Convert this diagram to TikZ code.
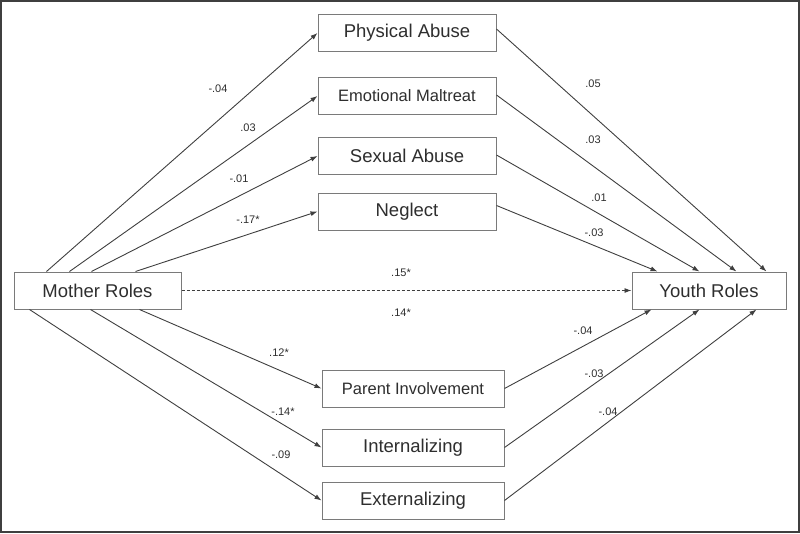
\documentclass[tikz,border=0pt]{standalone}
\usepackage{fontspec}
\setmainfont{Liberation Sans}
\usetikzlibrary{arrows.meta}
\definecolor{linea}{HTML}{3F3F3F}
\definecolor{borde}{HTML}{7A7A7A}
\definecolor{texto}{HTML}{2E2E2E}

\begin{document}
\begin{tikzpicture}[x=1pt,y=-1pt,
  caja/.style={draw=borde,line width=1pt,fill=white,minimum height=37pt,inner sep=0pt,text=texto,font=\fontsize{18.5}{20}\selectfont},
  cajachica/.style={caja,font=\fontsize{16.5}{18}\selectfont},
  coef/.style={text=texto,inner sep=1pt,font=\fontsize{11}{12}\selectfont},
  flecha/.style={draw=linea,line width=0.9pt,-{Latex[length=7pt,width=5pt]}}]

\useasboundingbox (0,0) rectangle (800,533);
%marco exterior
\draw [line width=2pt,color=linea] (1,1) rectangle (799,532);

%variables extremas
\node[caja,minimum width=167pt] (madre) at (97.5,290.5) {Mother Roles};
\node[caja,minimum width=154pt] (joven) at (709,290.5) {Youth Roles};

%mediadores de arriba
\node[caja,minimum width=178pt] (fisico) at (407,33) {Physical Abuse};
\node[cajachica,minimum width=178pt] (emocional) at (407,96) {Emotional Maltreat};
\node[caja,minimum width=178pt] (sexual) at (407,156) {Sexual Abuse};
\node[caja,minimum width=178pt] (neglig) at (407,211.5) {Neglect};

%mediadores de abajo
\node[cajachica,minimum width=182pt] (padres) at (413,388.5) {Parent Involvement};
\node[caja,minimum width=182pt] (intern) at (413,447.5) {Internalizing};
\node[caja,minimum width=182pt] (extern) at (413,500.5) {Externalizing};

%flechas desde Mother Roles
\draw[flecha] ([xshift=33pt]madre.north west) -- (fisico.west);
\draw[flecha] ([xshift=56pt]madre.north west) -- (emocional.west);
\draw[flecha] ([xshift=78pt]madre.north west) -- (sexual.west);
\draw[flecha] ([xshift=122pt]madre.north west) -- (neglig.west);
\draw[flecha] ([xshift=126pt]madre.south west) -- (padres.west);
\draw[flecha] ([xshift=77pt]madre.south west) -- (intern.west);
\draw[flecha] ([xshift=16pt]madre.south west) -- (extern.west);

%flechas hacia Youth Roles
\draw[flecha] ([yshift=4pt]fisico.east) -- ([xshift=135pt]joven.north west);
\draw[flecha] ([yshift=1pt]emocional.east) -- ([xshift=105pt]joven.north west);
\draw[flecha] ([yshift=1pt]sexual.east) -- ([xshift=68pt]joven.north west);
\draw[flecha] ([yshift=6pt]neglig.east) -- ([xshift=26pt]joven.north west);
\draw[flecha] (padres.east) -- ([xshift=20pt]joven.south west);
\draw[flecha] (intern.east) -- ([xshift=68pt]joven.south west);
\draw[flecha] (extern.east) -- ([xshift=125pt]joven.south west);

%efecto directo
\draw[flecha,dash pattern=on 3pt off 2pt] (madre.east) -- (joven.west);

%coeficientes
\node[coef] (c1) at (218,89) {-.04};
\node[coef] (c2) at (248,128) {.03};
\node[coef] (c3) at (239,179) {-.01};
\node[coef] (c4) at (248,220) {-.17*};
\node[coef] (c5) at (593,84) {.05};
\node[coef] (c6) at (593,140) {.03};
\node[coef] (c7) at (599,198) {.01};
\node[coef] (c8) at (594,233) {-.03};
\node[coef] (c9) at (401,273) {.15*};
\node[coef] (c10) at (401,313) {.14*};
\node[coef] (c11) at (279,353) {.12*};
\node[coef] (c12) at (283,412) {-.14*};
\node[coef] (c13) at (281,455) {-.09};
\node[coef] (c14) at (583,331) {-.04};
\node[coef] (c15) at (594,374) {-.03};
\node[coef] (c16) at (608,412) {-.04};
\end{tikzpicture}
\end{document}
